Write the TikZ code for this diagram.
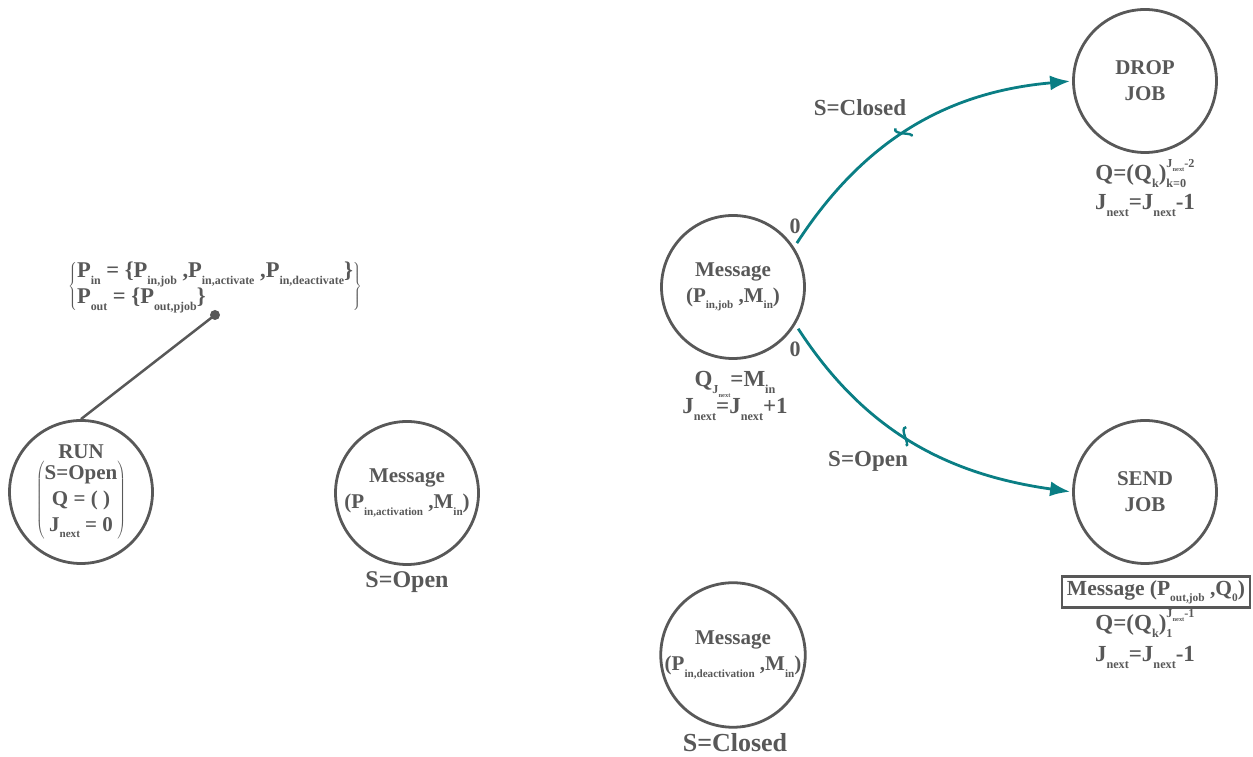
\documentclass[tikz,border=0pt]{standalone}
\usepackage{fontspec,graphicx}
\setmainfont{Liberation Serif}
\usetikzlibrary{arrows.meta,positioning,decorations.markings}
\definecolor{txtgray}{RGB}{88,88,88}
\definecolor{arcteal}{RGB}{10,126,132}
\newcommand{\sbs}[1]{\raisebox{-0.3em}{\scalebox{0.53}{#1}}}
\newcommand{\sps}[1]{\raisebox{0.55em}{\scalebox{0.53}{#1}}}
\newcommand{\supsb}[2]{\setbox0\hbox{\sps{#1}}\setbox2\hbox{\sbs{#2}}%
  \ifdim\wd0>\wd2 \rlap{\box2}\box0\else\rlap{\box0}\box2\fi}
\begin{document}
\begin{tikzpicture}[x=1pt,y=1pt,
  state/.style={circle,draw=txtgray,line width=2.8pt,minimum size=143pt,inner sep=0pt,
    align=center,text=txtgray,font=\bfseries\fontsize{21}{26}\selectfont},
  lbl/.style={text=txtgray,align=center,inner sep=0pt,font=\bfseries\fontsize{23}{#1}\selectfont},
  sz/.style={text=txtgray,inner sep=0pt,font=\bfseries\fontsize{#1}{#1}\selectfont},
  arc/.style={draw=arcteal,line width=2.8pt,->,>={Latex[length=20pt,width=15pt]},
    shorten <=5pt,shorten >=2pt,postaction={decorate},
    decoration={markings,mark=at position #1 with
      {\draw[arcteal,line width=2.4pt,-] (2pt,-10pt) .. controls (10pt,-4pt) and (-10pt,4pt) .. (-2pt,10pt);}}}]
\useasboundingbox (0,0) rectangle (1253,757);
% left part
\node[state] (run) at (81,265) {RUN\\[2pt]$\left(\begin{tabular}{@{}c@{}}S=Open\\Q = ( )\\J\sbs{next} = 0\end{tabular}\right)$};
\node[circle,fill=txtgray,inner sep=0pt,minimum size=10pt] (dot) at (215,442) {};
\node[text=txtgray,inner sep=0pt,font=\bfseries\fontsize{22.5}{24}\selectfont] (ports) at (215,470)
  {$\left\{\begin{tabular}{@{}l@{}}P\sbs{in} = \{P\sbs{in,job} ,P\sbs{in,activate} ,P\sbs{in,deactivate}\}\\
   P\sbs{out} = \{P\sbs{out,pjob}\}\end{tabular}\right\}$};
\draw[txtgray,line width=2.5pt] (run.north) -- (dot.center);
\node[state] (act) at (407,264) {Message\\(P\sbs{in,activation} ,M\sbs{in})};
\node[sz=24] (acts) at (407,175) {S=Open};
% job message and its two transitions
\node[state] (job) at (733,470) {Message\\(P\sbs{in,job} ,M\sbs{in})};
\node[lbl=23] (jobs) at (735,361) {Q\sbs{J\sbs{next}}=M\sbs{in}\\J\sbs{next}=J\sbs{next}+1};
\node[state] (drop) at (1145,676) {DROP\\JOB};
\node[lbl=29] (drops) at (1145,569) {Q=(Q\sbs{k})\supsb{J\sbs{next}-2}{k=0}\\J\sbs{next}=J\sbs{next}-1};
\node[state] (send) at (1145,265) {SEND\\JOB};
\node[draw=txtgray,line width=2.5pt,text=txtgray,inner xsep=5pt,minimum height=31pt,
  font=\bfseries\fontsize{21.5}{24}\selectfont] (box) at (1156,165) {Message (P\sbs{out,job}\ ,Q\sbs{0})};
\node[lbl=31] (sends) at (1145,118) {Q=(Q\sbs{k})\supsb{J\sbs{next}-1}{1}\\J\sbs{next}=J\sbs{next}-1};
\node[state] (deact) at (733,102) {Message\\(P\sbs{in,deactivation} ,M\sbs{in})};
\node[sz=26] (deacts) at (735,14) {S=Closed};
\draw[arc=0.47] (job.33) to[out=57,in=185] (drop.west);
\draw[arc=0.47] (job.-31) to[out=-57,in=172] (send.west);
\node[sz=22] (z1) at (795,531) {0};
\node[sz=22] (z2) at (795,408) {0};
\node[sz=23] (c1) at (860,649) {S=Closed};
\node[sz=23] (o1) at (868,296) {S=Open};
\end{tikzpicture}
\end{document}
